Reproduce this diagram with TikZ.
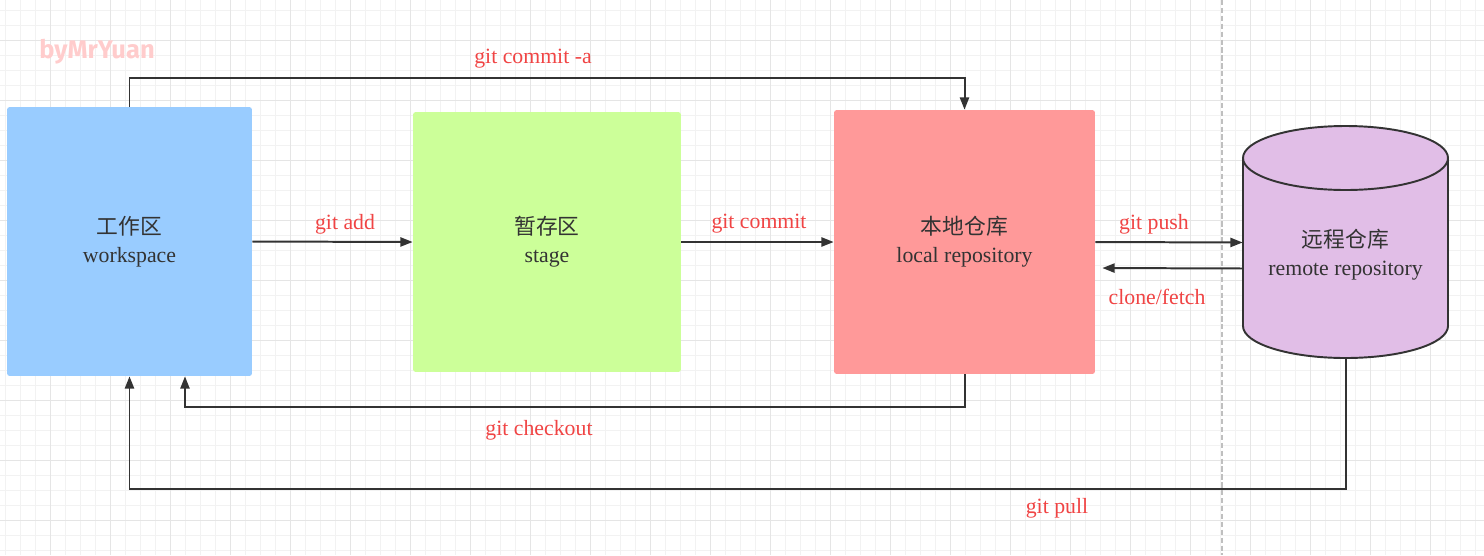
\documentclass[tikz,border=0pt]{standalone}
\usepackage{fontspec}
\setmainfont{Liberation Serif}
\newfontfamily\cjk{Noto Sans CJK SC}
\newfontfamily\markfont{Fira Sans}
\usetikzlibrary{arrows.meta}

\definecolor{workblue}{HTML}{99CCFF}
\definecolor{stagegreen}{HTML}{CCFF99}
\definecolor{localred}{HTML}{FF9999}
\definecolor{remotepurple}{HTML}{E1BEE7}
\definecolor{labelred}{HTML}{F04444}
\definecolor{inkgray}{HTML}{333333}
\definecolor{markpink}{HTML}{FFCCCC}

\tikzset{
  area/.style={minimum width=#1, inner sep=0pt, rounded corners=1.5pt,
    align=center, text=inkgray, font=\fontsize{12.4}{16}\selectfont},
  flow/.style={draw=inkgray, line width=1.13pt, -{Triangle[length=7pt,width=5.2pt]}},
  cmd/.style={text=labelred, font=\fontsize{12.4}{15}\selectfont},
  minorgrid/.style={draw=black!5, line width=0.55pt},
  majorgrid/.style={draw=black!10, line width=0.55pt}
}

\begin{document}
\begin{tikzpicture}[x=0.02cm, y=-0.02cm]
\useasboundingbox (0,0) rectangle (1484,555);

% grid paper
\foreach \x in {5,20,...,1484} \draw[minorgrid] (\x,0) -- (\x,555);
\foreach \y in {10,25,...,555} \draw[minorgrid] (0,\y) -- (1484,\y);
\foreach \x in {50,110,...,1484} \draw[majorgrid] (\x,0) -- (\x,555);
\foreach \y in {40,100,...,555} \draw[majorgrid] (0,\y) -- (1484,\y);
\draw[black!25, line width=1.1pt, dash pattern=on 3pt off 1.5pt] (1222,0) -- (1222,555);

\node[text=markpink, font=\markfont\bfseries\fontsize{14.5}{16}\selectfont] (mark) at (97,52) {byMrYuan};

% areas
\node[area=4.9cm, minimum height=5.38cm, fill=workblue] (work) at (129.5,241.5)
  {{\cjk 工作区}\\workspace};
\node[area=5.36cm, minimum height=5.2cm, fill=stagegreen] (stage) at (547,242)
  {{\cjk 暂存区}\\stage};
\node[area=5.22cm, minimum height=5.28cm, fill=localred] (local) at (964.5,242)
  {{\cjk 本地仓库}\\local repository};

% remote repository (cylinder)
\filldraw[fill=remotepurple, draw=inkgray, line width=1.1pt]
  (1243,158) -- (1243,326) arc[start angle=180, end angle=0, x radius=102.5, y radius=32]
  -- (1448,158) arc[start angle=0, end angle=-180, x radius=102.5, y radius=32] -- cycle;
\draw[inkgray, line width=1.1pt] (1243,158) arc[start angle=180, end angle=0, x radius=102.5, y radius=32];
\node[minimum width=4.1cm, minimum height=4.62cm] (remote) at (1345.5,242.5) {};
\node[area=3.9cm, rounded corners=0pt] (remotetext) at ([yshift=-0.25cm]remote.center)
  {{\cjk 远程仓库}\\remote repository};

% commands
\draw[flow] (work.north) -- ++(0,-29) -| (local.north);
\node[cmd] (commita) at (533,59) {git commit -a};

\draw[flow] (work.east) -- (stage.west);
\node[cmd] (add) at (345,224) {git add};

\draw[flow] (stage.east) -- (local.west);
\node[cmd] (commit) at (759,224) {git commit};

\draw[flow] (local.east) -- (remote.west);
\node[cmd] (push) at (1154,224) {git push};

\draw[flow, shorten >=4pt] ([yshift=-0.52cm]remote.west) -- ([yshift=-0.52cm]local.east);
\node[cmd] (fetch) at (1157,297) {clone/fetch};

\draw[flow] (local.south) -- ++(0,33) -| ([xshift=1.11cm]work.south);
\node[cmd] (checkout) at (539,430) {git checkout};

\draw[flow] (remote.south) -- ++(0,131) -| (work.south);
\node[cmd] (pull) at (1057,508) {git pull};
\end{tikzpicture}
\end{document}
